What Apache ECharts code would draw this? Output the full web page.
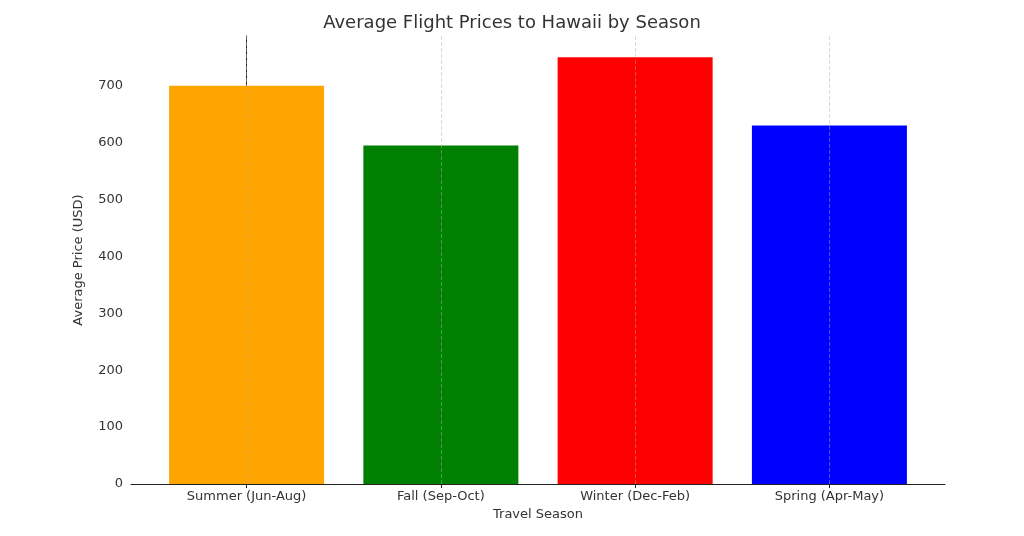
<!DOCTYPE html>
<html><head><meta charset="utf-8">
<script src="https://cdn.jsdelivr.net/npm/echarts@6/dist/echarts.min.js"></script>
<style>html,body{margin:0;padding:0;background:#fff}#c{width:1024px;height:536px}</style>
</head><body><div id="c"></div>
<script>
const categories = ['Summer (Jun-Aug)', 'Fall (Sep-Oct)', 'Winter (Dec-Feb)', 'Spring (Apr-May)'];
const prices = [700, 595, 750, 630];
const colors = ['#FFA500', '#008000', '#FF0000', '#0000FF'];
const yTicks = [0, 100, 200, 300, 400, 500, 600, 700];

const chart = echarts.init(document.getElementById('c'));
const font = 'DejaVu Sans';
chart.setOption({
  animation: false,
  textStyle: { fontFamily: font },
  title: { text: 'Average Flight Prices to Hawaii by Season', left: 'center', top: 9,
    textStyle: { fontFamily: font, fontSize: 18, fontWeight: 'normal', color: '#333' } },
  grid: { left: 131, right: 79, top: 36, bottom: 52 },
  xAxis: {
    type: 'value', min: -0.595, max: 3.595,
    name: 'Travel Season', nameLocation: 'middle', nameGap: 22,
    nameTextStyle: { fontFamily: font, fontSize: 13, color: '#333' },
    axisLine: { show: true, lineStyle: { color: '#222' } },
    axisTick: { show: true, customValues: [0, 1, 2, 3], length: 4, lineStyle: { color: '#222' } },
    axisLabel: { customValues: [0, 1, 2, 3], formatter: v => categories[Math.round(v)] || '',
      fontSize: 13, color: '#333', margin: 6 },
    splitLine: { show: false }
  },
  yAxis: {
    type: 'value', min: 0, max: 787.5,
    name: 'Average Price (USD)', nameLocation: 'middle', nameGap: 46,
    nameTextStyle: { fontFamily: font, fontSize: 13, color: '#333' },
    axisLine: { show: true, lineStyle: { color: '#222' } },
    axisTick: { show: true, customValues: yTicks, length: 4, lineStyle: { color: '#222' } },
    axisLabel: { customValues: yTicks, fontSize: 13, color: '#333', margin: 8 },
    splitLine: { show: false }
  },
  series: [{
    type: 'bar', barWidth: 155,
    data: prices.map((v, i) => ({ value: [i, v], itemStyle: { color: colors[i] } })),
    markLine: {
      silent: true, symbol: 'none', label: { show: false },
      lineStyle: { color: 'rgba(176,176,176,0.6)', type: [4, 2], width: 0.8 },
      data: categories.map((c, i) => ({ xAxis: i }))
    },
    z: 2
  }]
});
</script></body></html>
